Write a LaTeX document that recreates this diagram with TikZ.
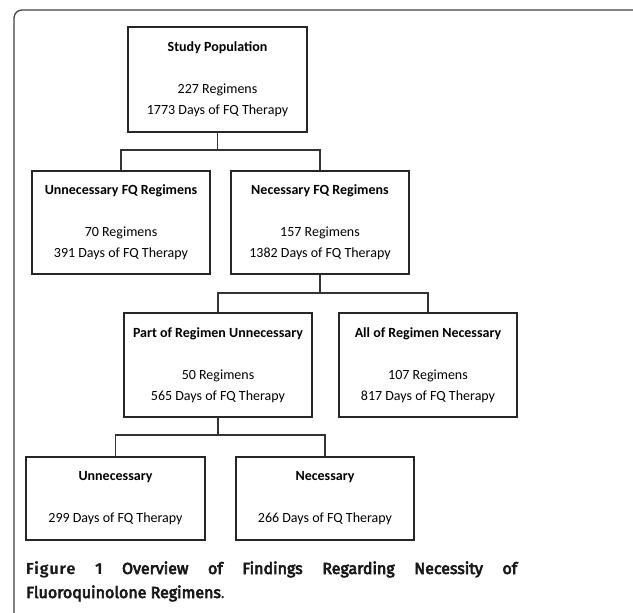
\documentclass[tikz,border=0pt]{standalone}
\usepackage{fontspec}
\setmainfont{Carlito}
\newfontfamily\capfont{Fira Sans}
\newfontfamily\capfig{Fira Sans}[LetterSpace=6, UprightFont={* Bold}, BoldFont={* Bold}]
\newfontfamily\capmed{Fira Sans}[FakeBold=4]
\begin{document}
\begin{tikzpicture}[x=1pt,y=-1pt,
  box/.style={draw=black!85, line width=1.8pt, rectangle, align=center, inner sep=0pt,
    font=\fontsize{14}{21}\selectfont},
  conn/.style={draw=black!80, line width=1.3pt},
  frame/.style={draw=black!75, line width=1.3pt, rounded corners=8pt}]
\useasboundingbox (0,0) rectangle (633,613);
\draw[frame] (14,10) rectangle (642,630);

\node[box, minimum width=179pt, minimum height=105pt] (sp) at (217.5,79.5)
  {\textbf{Study Population}\\[21pt]227 Regimens\\1773 Days of FQ Therapy};
\node[box, minimum width=178pt, minimum height=103pt] (ufq) at (121,222.5)
  {\textbf{Unnecessary FQ Regimens}\\[21pt]70 Regimens\\391 Days of FQ Therapy};
\node[box, minimum width=178pt, minimum height=103pt] (nfq) at (320,222.5)
  {\textbf{Necessary FQ Regimens}\\[21pt]157 Regimens\\1382 Days of FQ Therapy};
\node[box, minimum width=188pt, minimum height=104pt] (pru) at (218,365)
  {\textbf{Part of Regimen Unnecessary}\\[21pt]50 Regimens\\565 Days of FQ Therapy};
\node[box, minimum width=178pt, minimum height=104pt] (arn) at (428,365)
  {\textbf{All of Regimen Necessary}\\[21pt]107 Regimens\\817 Days of FQ Therapy};
\node[box, minimum width=179pt, minimum height=83pt] (un) at (115.5,498.5)
  {\textbf{Unnecessary}\\[21pt]299 Days of FQ Therapy};
\node[box, minimum width=178pt, minimum height=83pt] (ne) at (325,498.5)
  {\textbf{Necessary}\\[21pt]266 Days of FQ Therapy};

\coordinate (b1) at (217.5,150);
\coordinate (b2) at (320,293);
\coordinate (b3) at (218,435);
\draw[conn] (sp.south) -- (b1) -| (ufq.north);
\draw[conn] (b1) -| (nfq.north);
\draw[conn] (nfq.south) -- (b2) -| (pru.north);
\draw[conn] (b2) -| (arn.north);
\draw[conn] (pru.south) -- (b3) -| (un.north);
\draw[conn] (b3) -| (ne.north);

\node[anchor=base west, inner sep=0pt, text=black!90] (cap1) at (26,574)
  {\fontsize{16}{20}\selectfont\hbox to 491pt{\capfig Figure\hfill 1\hfill\capmed Overview\hfill of\hfill Findings\hfill Regarding\hfill Necessity\hfill of}};
\node[anchor=base west, inner sep=0pt, text=black!90] (cap2) at (26,598)
  {\fontsize{16}{20}\selectfont\capmed Fluoroquinolone Regimens\capfont .};
\end{tikzpicture}
\end{document}
